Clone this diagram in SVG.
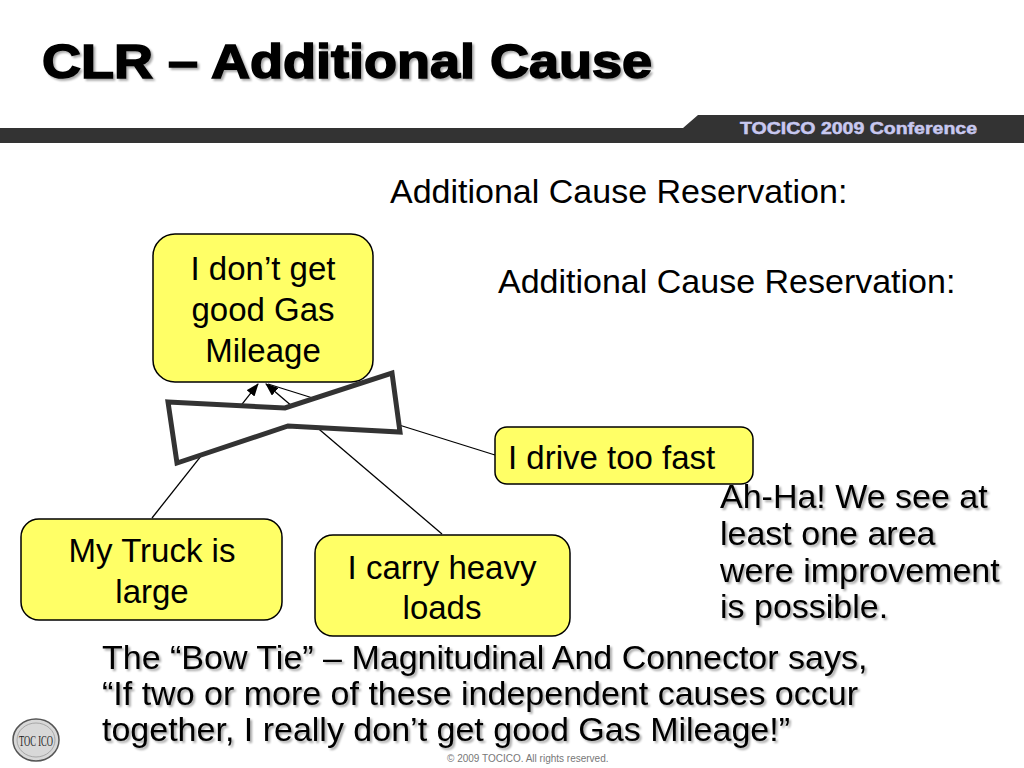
<svg xmlns="http://www.w3.org/2000/svg" width="1024" height="768" viewBox="0 0 1024 768">
<defs>
<style>
.node rect{fill:#FFFF66;stroke:#000;stroke-width:1.5}
.nt{font-family:"Liberation Sans",Arial,sans-serif;font-size:33px;fill:#000}
.body{font-family:"Liberation Sans",Arial,sans-serif;font-size:34px;fill:#000}
.conn line{stroke:#000;stroke-width:1.3}
</style>
<filter id="sh" x="-5%" y="-20%" width="110%" height="140%">
<feGaussianBlur in="SourceAlpha" stdDeviation="1.2"/>
<feOffset dx="2" dy="2" result="b"/>
<feComponentTransfer><feFuncA type="linear" slope="0.35"/></feComponentTransfer>
<feMerge><feMergeNode/><feMergeNode in="SourceGraphic"/></feMerge>
</filter>
<marker id="ah" markerWidth="13" markerHeight="10" refX="12" refY="5" orient="auto" markerUnits="userSpaceOnUse">
<path d="M0,0 L13,5 L0,10 Z" fill="#000"/>
</marker>
</defs>
<rect width="1024" height="768" fill="#fff"/>

<g id="header">
<text x="42" y="78" font-family="Liberation Sans,Arial,sans-serif" font-weight="bold" font-size="49" textLength="610" lengthAdjust="spacingAndGlyphs" stroke="#000" stroke-width="1.6" filter="url(#sh)">CLR – Additional Cause</text>
<polygon points="0,128 683,128 698,115 1024,115 1024,143 0,143" fill="#333"/>
<text x="740" y="134" font-family="Liberation Sans,Arial,sans-serif" font-weight="bold" font-size="17" fill="#C8C8F0" stroke="#C8C8F0" stroke-width="0.5" textLength="237" lengthAdjust="spacingAndGlyphs">TOCICO 2009 Conference</text>
</g>

<text class="body" x="390" y="203">Additional Cause Reservation:</text>
<text class="body" x="498" y="293">Additional Cause Reservation:</text>

<g id="connectors" class="conn">
<line x1="152" y1="518" x2="258" y2="384" marker-end="url(#ah)"/>
<line x1="442" y1="534" x2="266" y2="384" marker-end="url(#ah)"/>
<line x1="495" y1="455" x2="268" y2="384"/>
</g>

<g id="bowtie">
<polygon points="168,402 285,408 392,373 400,432 288,426 177,463" fill="#fff" stroke="#333" stroke-width="5" stroke-linejoin="miter"/>
</g>

<g id="n-mileage" class="node">
<rect x="153" y="234" width="220" height="148" rx="22"/>
<text class="nt" text-anchor="middle" x="263" y="280">I don’t get</text>
<text class="nt" text-anchor="middle" x="263" y="321">good Gas</text>
<text class="nt" text-anchor="middle" x="263" y="362">Mileage</text>
</g>

<g id="n-fast" class="node">
<rect x="495" y="427" width="258" height="57" rx="12"/>
<text class="nt" x="508" y="469">I drive too fast</text>
</g>

<g id="n-truck" class="node">
<rect x="21" y="519" width="261" height="101" rx="18"/>
<text class="nt" text-anchor="middle" x="152" y="562">My Truck is</text>
<text class="nt" text-anchor="middle" x="152" y="603">large</text>
</g>

<g id="n-loads" class="node">
<rect x="315" y="535" width="255" height="101" rx="18"/>
<text class="nt" text-anchor="middle" x="442" y="579">I carry heavy</text>
<text class="nt" text-anchor="middle" x="442" y="619">loads</text>
</g>

<g id="ahha" filter="url(#sh)">
<text class="body" x="720" y="508">Ah-Ha! We see at</text>
<text class="body" x="720" y="545">least one area</text>
<text class="body" x="720" y="582">were improvement</text>
<text class="body" x="720" y="618">is possible.</text>
</g>

<g id="bottomtext" filter="url(#sh)">
<text class="body" x="102" y="669">The “Bow Tie” – Magnitudinal And Connector says,</text>
<text class="body" x="102" y="705">“If two or more of these independent causes occur</text>
<text class="body" x="102" y="741">together, I really don’t get good Gas Mileage!”</text>
</g>

<g id="logo">
<ellipse cx="36" cy="740" rx="23" ry="21" fill="#d8d8d8" stroke="#555" stroke-width="1.5"/>
<ellipse cx="36" cy="740" rx="19" ry="17" fill="none" stroke="#999" stroke-width="0.8"/>
<text x="36" y="746" text-anchor="middle" font-family="Liberation Serif,serif" font-size="15" fill="#222" textLength="34" lengthAdjust="spacingAndGlyphs">TOC ICO</text>
</g>

<text x="447" y="762" font-family="Liberation Sans,Arial,sans-serif" font-size="10" fill="#777">© 2009 TOCICO. All rights reserved.</text>
</svg>
